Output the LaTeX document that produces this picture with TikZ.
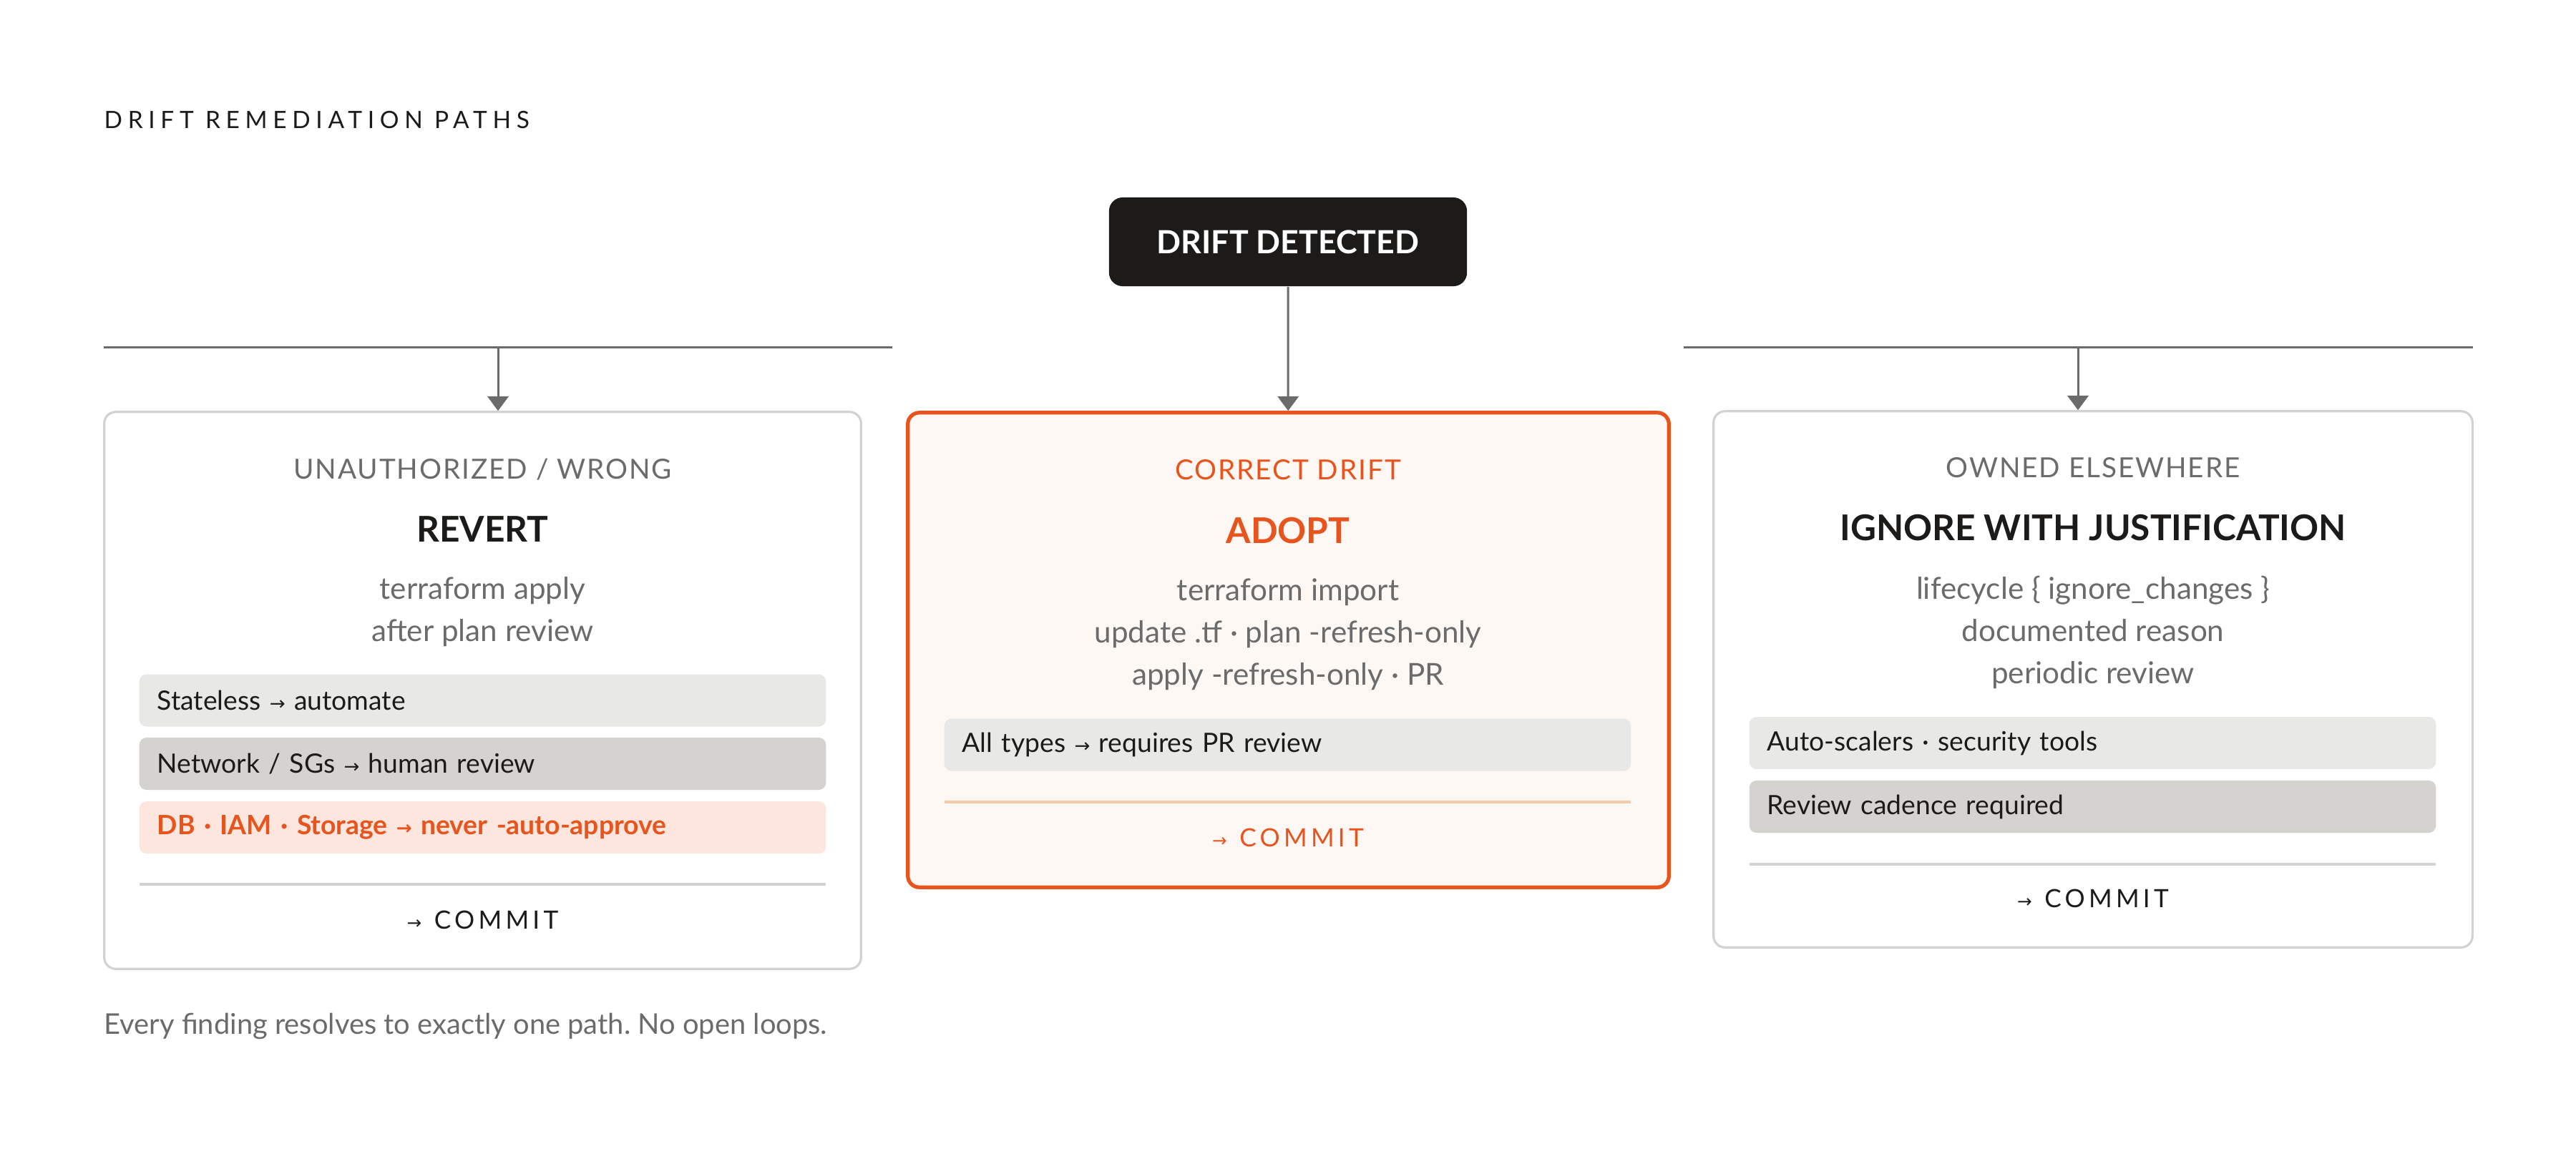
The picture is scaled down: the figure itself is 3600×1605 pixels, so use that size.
\documentclass[tikz,border=0pt]{standalone}
\usepackage{fontspec}
\setmainfont{Lato}
\newfontfamily\arrowfont{DejaVu Sans}
\usetikzlibrary{arrows.meta}
\usetikzlibrary{positioning}
\frenchspacing

\definecolor{ink}{HTML}{1C1B19}
\definecolor{mute}{HTML}{6B6B6B}
\definecolor{rust}{HTML}{E8541E}
\definecolor{edge}{HTML}{D2D2D2}
\definecolor{paper}{HTML}{FDF8F4}
\definecolor{chipA}{HTML}{E8E8E6}
\definecolor{chipB}{HTML}{D5D3CF}
\definecolor{chipC}{HTML}{FCE6DD}
\definecolor{peach}{HTML}{F1CBAE}

\newcommand{\arr}{{\arrowfont\scalebox{0.7}{→}}}
\newcommand{\titlefont}{\fontsize{9.5}{11}\selectfont\addfontfeature{LetterSpace=23}}
\newcommand{\subfont}{\fontsize{11}{13}\selectfont\addfontfeature{LetterSpace=5}}
\newcommand{\headfont}{\fontsize{14.1}{17}\selectfont\bfseries}
\newcommand{\bodyfont}{\fontsize{12}{15}\selectfont}
\newcommand{\rowfont}{\fontsize{10.6}{13}\selectfont}
\newcommand{\commitfont}{\fontsize{10}{12}\selectfont\addfontfeature{LetterSpace=15}}

\begin{document}
\begin{tikzpicture}[x=0.01cm,y=-0.01cm,
  card/.style={draw=edge,line width=0.9pt,rounded corners=0.16cm,fill=white,inner sep=0pt},
  hot/.style={card,draw=rust,line width=1.5pt,fill=paper},
  alarm/.style={fill=ink,text=white,rounded corners=0.19cm,font=\fontsize{12.7}{15}\selectfont\bfseries,
    minimum width=5cm,minimum height=1.24cm},
  chip/.style={rounded corners=0.1cm,minimum height=0.73cm,text width=9.09cm,inner xsep=0.25cm,
    align=left,font=\rowfont,text=ink},
  sub/.style={anchor=base,font=\subfont,text=mute},
  head/.style={anchor=base,font=\headfont,text=ink},
  body/.style={anchor=base,font=\bodyfont,text=mute},
  commit/.style={anchor=base,font=\commitfont,text=ink},
  link/.style={draw=mute,line width=0.85pt},
  tip/.style={link,-{Triangle[width=0.29cm,length=0.2cm]}},
  rule/.style={draw=edge,line width=0.9pt}]

  \fill[white] (0,0) rectangle (3600,1605);
  \useasboundingbox (0,0) rectangle (3600,1605);

  \node[anchor=base west,inner sep=0pt,font=\titlefont,text=ink] (title) at (145,179) {DRIFT REMEDIATION PATHS};
  \node[alarm] (detect) at (1800,338) {DRIFT DETECTED};

  % the three cards
  \node[card,minimum width=10.57cm,minimum height=7.78cm] (revert) at (674.5,965) {};
  \node[hot,minimum width=10.63cm,minimum height=6.63cm] (adopt) at (1800.5,908.5) {};
  \node[card,minimum width=10.60cm,minimum height=7.49cm] (ignore) at (2925,949.5) {};

  % branches
  \coordinate (barL-w) at (145,485);
  \coordinate (barL-e) at (1247,485);
  \coordinate (barR-w) at (2353,485);
  \coordinate (barR-e) at (3456,485);
  \coordinate (forkL) at (696,485);
  \coordinate (forkR) at (2904,485);
  \draw[link] (barL-w) -- (barL-e);
  \draw[link] (barR-w) -- (barR-e);
  \draw[tip] (forkL) -- (forkL |- revert.north);
  \draw[tip] (forkR) -- (forkR |- ignore.north);
  \draw[tip] (detect) -- (adopt);

  % revert
  \node[sub] (revert-sub) at (674.5,669) {UNAUTHORIZED / WRONG};
  \node[head] (revert-head) at (674.5,757) {REVERT};
  \node[body] (revert-l1) at (674.5,837) {terraform apply};
  \node[body] (revert-l2) at (674.5,896) {after plan review};
  \node[chip,fill=chipA] (revert-c1) at (674.5,979) {Stateless \arr{} automate};
  \node[chip,fill=chipB] (revert-c2) at (674.5,1067.5) {Network / SGs \arr{} human review};
  \node[chip,fill=chipC,text=rust,font=\rowfont\bfseries] (revert-c3) at (674.5,1156.5)
    {DB · IAM · Storage \arr{} never -auto-approve};
  \draw[rule] (195,1236) -- (1154,1236);
  \node[commit] (revert-go) at (674.5,1298) {\arr\enspace COMMIT};

  % adopt
  \node[sub,text=rust] (adopt-sub) at (1800,670) {CORRECT DRIFT};
  \node[head,text=rust] (adopt-head) at (1800,759) {ADOPT};
  \node[body] (adopt-l1) at (1800,839) {terraform import};
  \node[body] (adopt-l2) at (1800,898) {update .tf · plan -refresh-only};
  \node[body] (adopt-l3) at (1800,957) {apply -refresh-only · PR};
  \node[chip,fill=chipA] (adopt-c1) at (1799.5,1041) {All types \arr{} requires PR review};
  \draw[rule,draw=peach] (1320,1121) -- (2279,1121);
  \node[commit,text=rust] (adopt-go) at (1800,1183) {\arr\enspace COMMIT};

  % ignore
  \node[sub] (ignore-sub) at (2925,667) {OWNED ELSEWHERE};
  \node[head] (ignore-head) at (2925,755) {IGNORE WITH JUSTIFICATION};
  \node[body] (ignore-l1) at (2925,837) {lifecycle \{ ignore\_changes \}};
  \node[body] (ignore-l2) at (2925,896) {documented reason};
  \node[body] (ignore-l3) at (2925,955) {periodic review};
  \node[chip,fill=chipA] (ignore-c1) at (2924.5,1038.5) {Auto-scalers · security tools};
  \node[chip,fill=chipB] (ignore-c2) at (2924.5,1127.5) {Review cadence required};
  \draw[rule] (2445,1208) -- (3404,1208);
  \node[commit] (ignore-go) at (2925,1268) {\arr\enspace COMMIT};

  \node[anchor=base west,inner sep=0pt,font=\fontsize{11.33}{14}\selectfont,text=mute] (note) at (145,1445)
    {Every finding resolves to exactly one path. No open loops.};
\end{tikzpicture}
\end{document}
